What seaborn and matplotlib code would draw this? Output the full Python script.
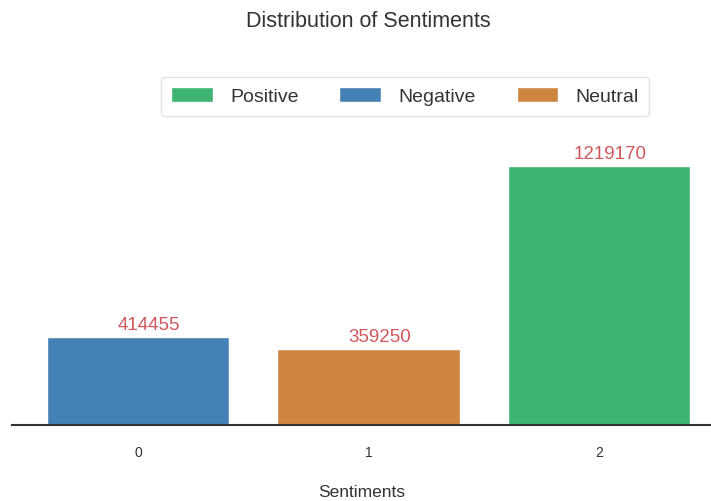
import matplotlib
matplotlib.use("Agg")
import matplotlib.pyplot as plt
from matplotlib.patches import Patch
import seaborn as sns
import pandas as pd

sentiments = [0, 1, 2]
counts = [414455, 359250, 1219170]
bar_colors = ["#4481b5", "#cd853f", "#3db470"]
legend_labels = ["Positive", "Negative", "Neutral"]
legend_colors = ["#3db470", "#4481b5", "#cd853f"]

sns.set_style("white")
plt.rcParams["font.family"] = ["Liberation Sans", "DejaVu Sans"]

df = pd.DataFrame({"Sentiments": sentiments, "count": counts})

fig = plt.figure(figsize=(7.11, 5.01), dpi=100)
ax = fig.add_axes([12 / 711, 76 / 501, 699 / 711, (425 - 55) / 501])

sns.barplot(data=df, x="Sentiments", y="count", hue="Sentiments",
            palette=bar_colors, width=0.79, saturation=1, legend=False, ax=ax)

# value labels above each bar, nudged slightly to the right
for i, v in enumerate(counts):
    ax.annotate(f"{v}", (i, v), xytext=(8, 2), textcoords="offset points",
                ha="center", va="bottom", color="#d0575c", fontsize=13.5)

ax.set_xlim(-0.547, 2.486)
ax.set_ylim(0, 1219170 * (425 - 55) / (425 - 166))
ax.set_yticks([])
ax.set_ylabel("")
ax.set_xlabel("Sentiments", fontsize=12.5, color="#333333", labelpad=18)
ax.tick_params(axis="x", labelsize=10, colors="#333333", pad=15, length=0)
for s in ["left", "right", "top"]:
    ax.spines[s].set_visible(False)
ax.spines["bottom"].set_color("#333333")
ax.spines["bottom"].set_linewidth(1.5)

handles = [Patch(facecolor=c, label=l) for c, l in zip(legend_colors, legend_labels)]
fig.legend(handles=handles, loc="upper center", ncol=3,
           bbox_to_anchor=(405 / 711, 1 - 67 / 501), fontsize=14,
           handlelength=2.15, handleheight=0.8, columnspacing=2.1,
           handletextpad=0.88, frameon=True, edgecolor="#dddddd",
           borderpad=0.55, labelcolor="#333333")

fig.suptitle("Distribution of Sentiments", x=368 / 711, fontsize=15.5,
             color="#333333", y=1 - 11 / 501, va="top")

fig.savefig("out.png", dpi=100)
